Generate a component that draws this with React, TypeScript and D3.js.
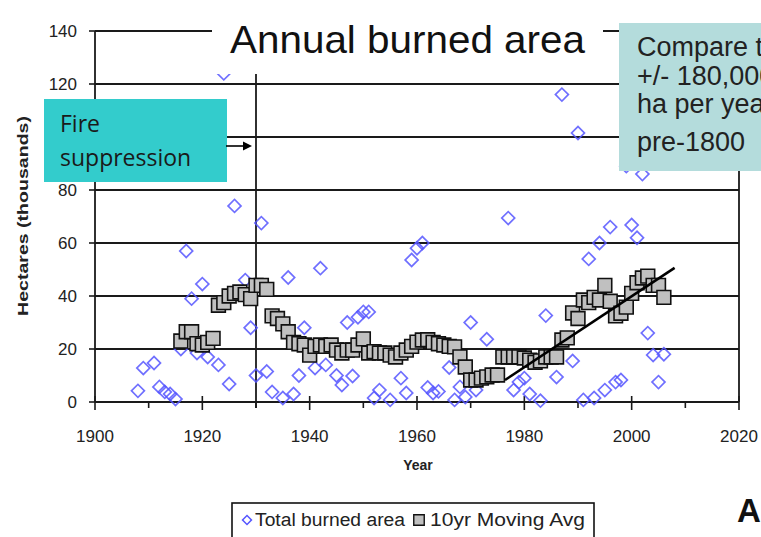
import React from 'react';
import * as d3 from 'd3';

// Annual total burned area (thousands of hectares)
const burnYears = [1908, 1909, 1911, 1912, 1913, 1914, 1915, 1916, 1917, 1918, 1919, 1920, 1921, 1923, 1924, 1925, 1926, 1928, 1929, 1930, 1931, 1932, 1933, 1935, 1936, 1937, 1938, 1939, 1941, 1942, 1943, 1945, 1946, 1947, 1948, 1949, 1950, 1951, 1952, 1953, 1955, 1957, 1958, 1959, 1960, 1961, 1962, 1963, 1964, 1966, 1967, 1968, 1969, 1970, 1971, 1973, 1977, 1978, 1979, 1980, 1981, 1983, 1984, 1986, 1987, 1989, 1990, 1991, 1992, 1993, 1994, 1995, 1996, 1997, 1998, 1999, 2000, 2001, 2002, 2003, 2004, 2005, 2006];
const burnValues = [4.2, 12.8, 14.7, 5.7, 3.8, 3, 1.1, 20, 57, 39, 18.5, 44.5, 17, 14, 124, 6.8, 74, 46, 28, 10, 67.5, 11.5, 3.8, 1.5, 47, 3, 10, 28, 12.8, 50.5, 14, 10, 6.4, 30, 9.8, 32, 34, 34, 1.5, 4.5, 0.8, 9, 3.4, 53.6, 58, 60, 5.5, 3.4, 4, 13, 0.8, 5.7, 1.9, 30, 4.5, 23.7, 69.4, 4.5, 7.5, 9, 3, 0.5, 32.6, 9.4, 116, 15.5, 101.5, 0.8, 54, 1.5, 60, 4.5, 66, 7.5, 8.3, 89, 66.8, 62, 86, 26, 17.7, 7.5, 18];

// 10-year moving average
const avgYears = [1916, 1917, 1918, 1919, 1920, 1921, 1922, 1923, 1924, 1925, 1926, 1927, 1928, 1929, 1930, 1931, 1932, 1933, 1934, 1935, 1936, 1937, 1938, 1939, 1940, 1941, 1942, 1943, 1944, 1945, 1946, 1947, 1948, 1949, 1950, 1951, 1952, 1953, 1954, 1955, 1956, 1957, 1958, 1959, 1960, 1961, 1962, 1963, 1964, 1965, 1966, 1967, 1968, 1969, 1970, 1971, 1972, 1973, 1974, 1975, 1976, 1977, 1978, 1979, 1980, 1981, 1982, 1983, 1984, 1985, 1986, 1987, 1988, 1989, 1990, 1991, 1992, 1993, 1994, 1995, 1996, 1997, 1998, 1999, 2000, 2001, 2002, 2003, 2004, 2005, 2006];
const avgValues = [23, 26.5, 26.5, 22, 21.5, 22.5, 24, 36.5, 37.5, 40, 41, 41.5, 40.5, 39, 44, 44, 42.5, 32.5, 31.5, 29.5, 26.5, 22.5, 22, 21.5, 17.7, 21, 21.5, 21, 21.5, 19.6, 18.5, 19.6, 19.6, 21.5, 23.8, 18.5, 19, 18.5, 18.5, 17.7, 17, 18.5, 19.6, 21, 22.6, 23.4, 23.5, 22.5, 22, 21.5, 21, 20.8, 17, 13.2, 8.3, 8.3, 9, 9.5, 10.2, 10.2, 17, 17, 17, 17, 16.6, 15.8, 15, 15.5, 17, 17, 17, 23.4, 24.2, 33.6, 31.5, 38.5, 37.5, 39.5, 38.5, 44, 38, 32.5, 33.5, 35.8, 41, 45, 46.8, 47.5, 44, 44, 39.5];

// Trend line endpoints
const trendYears = [1976.4, 2008];
const trendValues = [8.3, 50.6];

const xTicks = [1900, 1920, 1940, 1960, 1980, 2000, 2020];
const xMinorTicks = [1910, 1930, 1950, 1970, 1990, 2010];
const yTicks = [0, 20, 40, 60, 80, 100, 120, 140];
const suppressionYear = 1930;

const titleText = 'Annual burned area';
const fireLines = ['Fire', 'suppression'];
const compareLines = ['Compare to', '+/- 180,000', 'ha per year', 'pre-1800'];

const FONT = '"Liberation Sans", Arial, sans-serif';

export default function App() {
  const x = d3.scaleLinear().domain([1900, 2020]).range([95, 739]);
  const y = d3.scaleLinear().domain([0, 140]).range([402, 31]);

  const diamond = d3.symbol().type(d3.symbolSquare).size(84)();
  const square = d3.symbol().type(d3.symbolSquare).size(190)();
  const legendDiamond = d3.symbol().type(d3.symbolSquare).size(40)();
  const legendSquare = d3.symbol().type(d3.symbolSquare).size(110)();

  const trend = d3.line<number>()
    .x((_, i) => x(trendYears[i]))
    .y((_, i) => y(trendValues[i]));

  return (
    <svg width={761} height={537} style={{ position: 'fixed', left: 0, top: 0, background: '#fff' }}>
      <rect x={0} y={0} width={761} height={537} fill="#fff" />
      {/* gridlines */}
      {yTicks.map((t) => (
        <line key={'g' + t} x1={x(1900)} x2={x(2020)} y1={y(t)} y2={y(t)} stroke="#1a1a1a" strokeWidth={1.8} />
      ))}
      {/* frame */}
      <line x1={x(1900)} x2={x(1900)} y1={y(140)} y2={y(0)} stroke="#1a1a1a" strokeWidth={1.8} />
      <line x1={x(2020)} x2={x(2020)} y1={y(140)} y2={y(0)} stroke="#1a1a1a" strokeWidth={1.8} />
      {/* y ticks */}
      {yTicks.map((t) => (
        <line key={'yt' + t} x1={x(1900) - 6} x2={x(1900) + 5} y1={y(t)} y2={y(t)} stroke="#1a1a1a" strokeWidth={1.6} />
      ))}
      {/* x ticks */}
      {xTicks.map((t) => (
        <line key={'xt' + t} x1={x(t)} x2={x(t)} y1={y(0) - 6} y2={y(0) + 8} stroke="#1a1a1a" strokeWidth={1.6} />
      ))}
      {xMinorTicks.map((t) => (
        <line key={'xm' + t} x1={x(t)} x2={x(t)} y1={y(0)} y2={y(0) + 6} stroke="#1a1a1a" strokeWidth={1.6} />
      ))}
      {/* fire suppression vertical line */}
      <line x1={x(suppressionYear)} x2={x(suppressionYear)} y1={y(140)} y2={y(0) + 6} stroke="#1a1a1a" strokeWidth={1.8} />

      {/* annual points */}
      {burnYears.map((yr, i) => (
        <path key={'d' + yr} d={diamond} transform={`translate(${x(yr)},${y(burnValues[i])}) rotate(45)`}
          fill="none" stroke="#5656ff" strokeOpacity={0.85} strokeWidth={1.7} />
      ))}
      {/* moving avg */}
      {avgYears.map((yr, i) => (
        <path key={'s' + yr} d={square} transform={`translate(${x(yr)},${y(avgValues[i])})`}
          fill="#c0c0c0" stroke="#111" strokeWidth={1.6} />
      ))}
      {/* trend */}
      <path d={trend(trendYears) || ''} fill="none" stroke="#000" strokeWidth={2.6} />

      {/* tick labels */}
      {yTicks.map((t) => (
        <text key={'yl' + t} x={77} y={y(t) + 6} textAnchor="end" fontFamily={FONT} fontSize={17} fill="#222">{t}</text>
      ))}
      {xTicks.map((t) => (
        <text key={'xl' + t} x={x(t)} y={442} textAnchor="middle" fontFamily={FONT} fontSize={17} fill="#222">{t}</text>
      ))}
      <text x={418} y={470} textAnchor="middle" fontFamily={FONT} fontSize={14} fontWeight="bold" fill="#222">Year</text>
      <text transform="translate(28,216) rotate(-90)" textAnchor="middle" fontFamily={FONT} fontSize={15}
        fontWeight="bold" fill="#222" textLength={200} lengthAdjust="spacingAndGlyphs">Hectares (thousands)</text>

      {/* title */}
      <rect x={212} y={0} width={391} height={74} fill="#fff" />
      <text x={230} y={53} fontFamily={FONT} fontSize={39} fill="#111" textLength={355} lengthAdjust="spacingAndGlyphs">{titleText}</text>

      {/* fire suppression box */}
      <rect x={44} y={99} width={183} height={83} fill="#33cccc" />
      {fireLines.map((l, i) => (
        <text key={l} x={60} y={132 + i * 34} fontFamily='"Open Sans", "Noto Sans", sans-serif' fontSize={23} fill="#1a1a1a">{l}</text>
      ))}
      <line x1={226} x2={244} y1={146} y2={146} stroke="#000" strokeWidth={1.6} />
      <path d="M252,146 L243,141.5 L243,150.5 Z" fill="#000" />

      {/* compare box */}
      <rect x={619} y={23} width={150} height={148} fill="#b4dcdc" />
      {compareLines.map((l, i) => (
        <text key={l} x={637} y={[56, 85, 113, 151][i]} fontFamily={FONT} fontSize={27} fill="#222">{l}</text>
      ))}

      {/* legend */}
      <rect x={232} y={503} width={362} height={50} fill="#fff" stroke="#111" strokeWidth={1.6} />
      <path d={legendDiamond} transform="translate(247,520) rotate(45)" fill="none" stroke="#5656ff" strokeWidth={1.5} />
      <text x={255} y={526} fontFamily={FONT} fontSize={18} fill="#222" textLength={150} lengthAdjust="spacingAndGlyphs">Total burned area</text>
      <path d={legendSquare} transform="translate(419,520)" fill="#c0c0c0" stroke="#111" strokeWidth={1.4} />
      <text x={430} y={526} fontFamily={FONT} fontSize={18} fill="#222" textLength={155} lengthAdjust="spacingAndGlyphs">10yr Moving Avg</text>

      <text x={737} y={522} fontFamily={FONT} fontSize={33} fontWeight="bold" fill="#111">A</text>
    </svg>
  );
}
